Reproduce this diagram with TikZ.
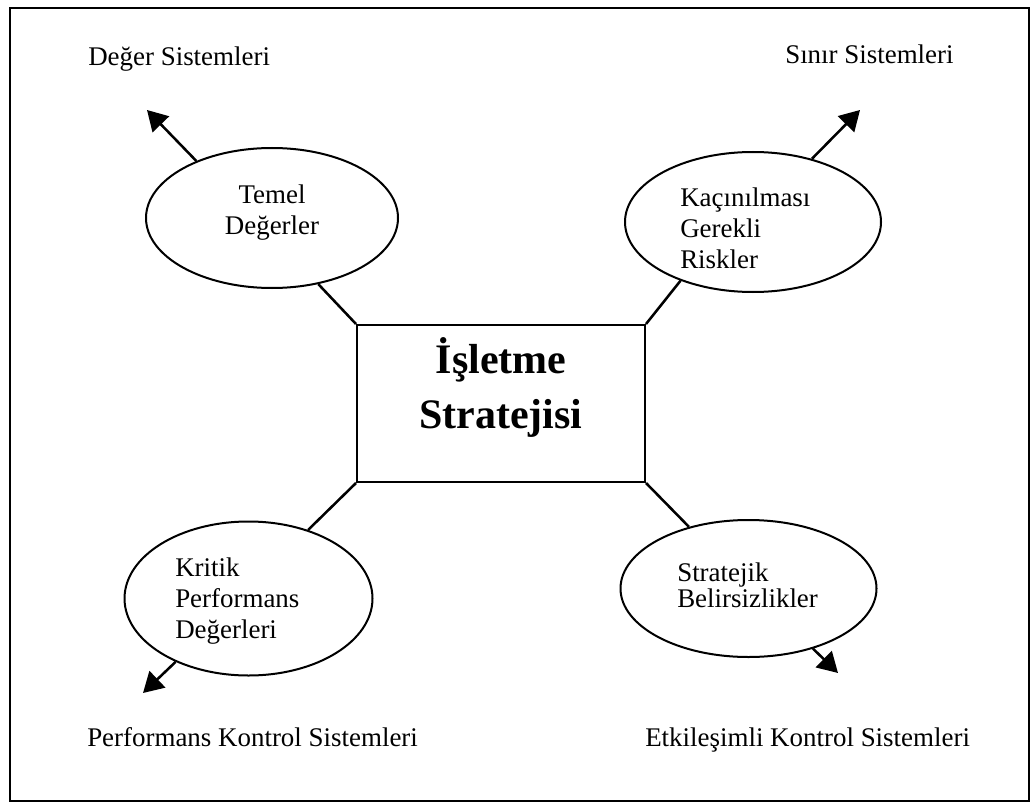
\documentclass[tikz,border=0pt]{standalone}
\usepackage{fontspec}
\setmainfont{Liberation Serif}
\usetikzlibrary{shapes.geometric,arrows.meta}
\newcommand\pxl{0.75pt}
\begin{document}
\begin{tikzpicture}[x=0.75pt,y=-0.75pt,
  bubble/.style={ellipse,draw,line width=1.5pt,inner sep=0pt,
    minimum width=#1},
  bubble/.default=252*\pxl,
  txt/.style={inner sep=0pt,font=\fontsize{20.2}{23.6}\selectfont},
  lbl/.style={txt,anchor=base west},
  inlbl/.style={txt,anchor=base west,text width=#1,align=left},
  link/.style={line width=1.9pt},
  arr/.style={line width=1.9pt,-{Triangle[length=15pt,width=17pt]}}]
\useasboundingbox (0,0) rectangle (1035,806);
% outer frame
\draw[line width=1.3pt] (10,8) rectangle (1029,801);

% central box
\node[draw,line width=1.5pt,minimum width=288*\pxl,minimum height=157*\pxl,inner sep=0pt] (c) at (501,403.5) {};
\node[inner sep=0pt,anchor=base,text width=280*\pxl,align=center,
  font=\bfseries\fontsize{31.5}{41.25}\selectfont] (ct) at (501,373) {İşletme\\Stratejisi};

% four ellipses
\node[bubble,minimum height=140*\pxl] (tv) at (272,218) {};
\node[bubble=256*\pxl,minimum height=140*\pxl] (kr) at (753,222) {};
\node[bubble=248*\pxl,minimum height=154*\pxl] (kp) at (248.5,598.5) {};
\node[bubble=256*\pxl,minimum height=137*\pxl] (sb) at (748.5,588.5) {};

% ellipse texts
\node[txt,anchor=base,text width=200*\pxl,align=center,
  font=\fontsize{20.2}{23.25}\selectfont] (tvt) at (272,204) {Temel\\Değerler};
\node[inlbl=150*\pxl] (krt) at (680,206) {Kaçınılması\\Gerekli\\Riskler};
\node[inlbl=150*\pxl] (kpt) at (175,576) {Kritik\\Performans\\Değerleri};
\node[inlbl=150*\pxl,font=\fontsize{20.2}{20}\selectfont] (sbt) at (677,581) {Stratejik\\Belirsizlikler};

% outer labels
\node[lbl] (ds) at (88,66) {Değer Sistemleri};
\node[lbl] (ss) at (785,64) {Sınır Sistemleri};
\node[lbl] (pk) at (87,746) {Performans Kontrol Sistemleri};
\node[lbl] (ek) at (645,746) {Etkileşimli Kontrol Sistemleri};

% connectors from the box corners
\draw[link] (c.north west) -- (tv.-55);
\draw[link] (c.north east) -- (kr.-141);
\draw[link] (c.south west) -- (kp.49);
\draw[link] (c.south east) -- (sb.134);

% arrows towards the control systems
\coordinate (tvtip) at (147,110);
\coordinate (krtip) at (860,110);
\coordinate (kptip) at (143,693);
\coordinate (sbtip) at (838,673);
\draw[arr] (tv.143) -- (tvtip);
\draw[arr] (kr.47) -- (krtip);
\draw[arr] (kp.221) -- (kptip);
\draw[arr] (sb.-43) -- (sbtip);
\end{tikzpicture}
\end{document}
